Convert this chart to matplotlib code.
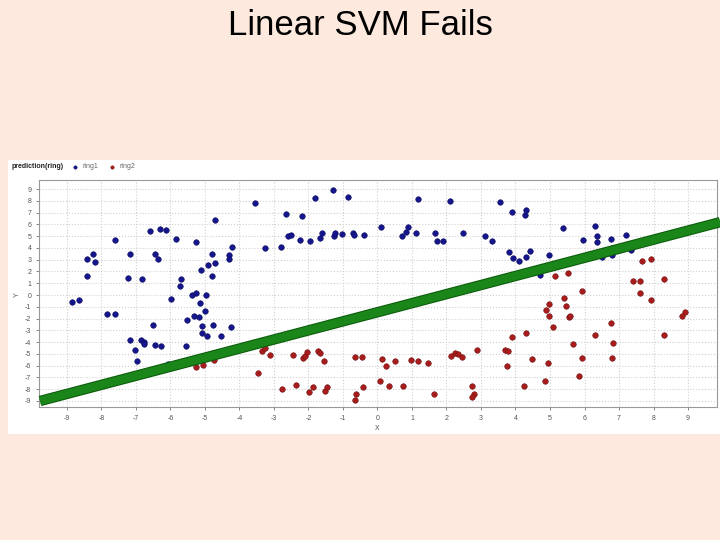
import matplotlib.pyplot as plt
import matplotlib.patheffects as pe
from matplotlib.patches import Rectangle

# ring1 (blue) points
ring1_x = [-8.41, -8.41, -8.24, -8.18, -7.62, -7.18, -7.23, -6.83, -6.6, -6.29, -6.14, -6.45, -6.37,
           -5.83, -5.25, -4.7, -5.7, -5.71, -5.12, -4.92, -4.81, -4.7, -4.8, -4.21, -4.3, -4.31,
           -8.85, -8.66, -7.83, -7.62, -6.52, -7.18, -6.85, -6.77, -6.77, -7.04, -6.98, -6.45, -6.27,
           -6.06, -5.97, -5.55, -5.53, -5.38, -5.26, -4.98, -5.14, -5.01, -5.31, -5.18, -5.08, -4.77,
           -5.1, -4.95, -4.54, -4.25, -4.02,
           -3.56, -3.27, -2.79, -2.64, -2.18, -2.59, -2.52, -2.26, -1.97, -1.8, -1.29, -0.84, -1.68,
           -1.61, -1.27, -1.24, -1.04, -0.7, -0.67, -0.4, 0.1, 0.72, 0.82, 0.88, 1.16, 1.12, 1.67,
           1.73, 1.89, 2.09, 2.48,
           3.56, 3.9, 4.3, 4.27, 3.12, 3.31, 3.82, 3.94, 4.09, 4.3, 4.43, 4.97, 4.71, 5.39, 5.95,
           6.3, 6.36, 6.37, 6.78, 6.8, 6.81, 6.52, 7.19, 7.36]
ring1_y = [1.65, 3.05, 3.5, 2.82, 4.67, 3.45, 1.42, 1.34, 5.41, 5.64, 5.53, 3.5, 3.02,
           4.76, 4.53, 6.38, 1.34, 0.77, 2.14, 2.56, 3.5, 2.76, 1.62, 4.04, 3.42, 3.02,
           -0.63, -0.46, -1.62, -1.6, -2.54, -3.82, -3.79, -3.96, -4.13, -4.67, -5.58, -4.22, -4.33,
           -5.84, -0.34, -4.3, -2.08, 0.03, 0.2, 0.03, -0.71, -1.34, -1.79, -1.85, -2.59, -2.54,
           -3.22, -3.44, -3.5, -2.68, -4.42,
           7.78, 3.96, 4.08, 6.84, 6.72, 5.04, 5.07, 4.7, 4.62, 8.26, 8.89, 8.32, 4.84,
           5.3, 5.01, 5.27, 5.21, 5.27, 5.1, 5.1, 5.81, 5.01, 5.38, 5.78, 8.18, 5.3, 5.27,
           4.62, 4.59, 7.98, 5.3,
           7.89, 7.07, 7.21, 6.81, 4.98, 4.59, 3.62, 3.16, 2.85, 3.22, 3.7, 3.36, 1.71, 5.73, 4.67,
           5.84, 5.01, 4.47, 4.73, 4.02, 3.42, 3.27, 5.07, 3.85]

# ring2 (red) points
ring2_x = [-5.26, -5.07, -4.73,
           -3.35, -3.26, -3.11, -3.46, -2.78, -2.44, -2.35, -2.17, -2.11, -2.05, -1.99, -1.88, -1.73,
           -1.68, -1.54, -1.52, -1.45, -0.64, -0.45, -0.64, -0.61, -0.41, 0.06, 0.14, 0.25, 0.33,
           0.52, 0.73, 0.96, 1.18, 1.45, 1.63, 2.12, 2.26, 2.34, 2.45, 2.89, 2.74, 2.79, 2.74,
           5.15, 5.51, 7.67, 7.94, 7.41, 7.6, 8.29, 5.92, 7.61,
           7.92, 5.41, 4.98, 4.88, 5.45, 4.96, 5.54, 5.59, 5.09, 6.76, 8.9, 8.84, 4.31, 3.91, 6.31,
           8.29, 3.71, 3.78, 5.68, 6.83, 4.49, 4.93, 5.92, 6.8, 3.75, 5.83, 4.85, 4.26]
ring2_y = [-6.13, -5.96, -5.56,
           -4.79, -4.53, -5.1, -6.64, -8.0, -5.13, -7.63, -5.36, -5.16, -4.87, -8.26, -7.81, -4.73,
           -4.9, -5.58, -8.15, -7.78, -5.24, -5.27, -8.89, -8.4, -7.81, -7.29, -5.41, -6.01, -7.69,
           -5.58, -7.69, -5.53, -5.58, -5.81, -8.44, -5.16, -4.9, -5.04, -5.24, -4.64, -7.75, -8.38, -8.69,
           1.62, 1.85, 2.93, 3.02, 1.17, 1.22, 1.34, 0.34, 0.14,
           -0.43, -0.28, -0.8, -1.23, -0.91, -1.77, -1.85, -1.74, -2.7, -2.37, -1.48, -1.82, -3.19, -3.53, -3.36,
           -3.42, -4.64, -4.76, -4.16, -4.07, -5.47, -5.75, -5.36, -5.38, -6.01, -6.84, -7.32, -7.72]

# separating line (endpoints)
line_x = [-9.78, 9.93]
line_y = [-9.0, 6.19]

ticks = list(range(-9, 10))

plt.rcParams['font.family'] = ['Liberation Sans', 'DejaVu Sans']
plt.rcParams['axes.unicode_minus'] = False

fig = plt.figure(figsize=(7.2, 5.4), dpi=100, facecolor='#fde9dd')

fig.text(0.5, 1 - 35 / 540, "Linear SVM Fails", ha='center', va='baseline', fontsize=25, color='black')

# white screenshot panel, behind the axes
fig.patches.append(Rectangle((8 / 720, 1 - 434 / 540), 712 / 720, 274 / 540,
                             transform=fig.transFigure, facecolor='white', edgecolor='none', zorder=-5))

ax = fig.add_axes([39 / 720, 1 - 407 / 540, 678 / 720, 227 / 540])
ax.set_facecolor('white')

ax.scatter(ring1_x, ring1_y, s=16, color='#16168c', edgecolors='#0d0d60', linewidths=0.4,
           label='ring1', zorder=3)
ax.scatter(ring2_x, ring2_y, s=16, color='#a81c1c', edgecolors='#701010', linewidths=0.4,
           label='ring2', zorder=3)

ax.plot(line_x, line_y, color='#1a861a', lw=6, solid_capstyle='butt', clip_on=False, zorder=4,
        path_effects=[pe.Stroke(linewidth=7.5, foreground='#0b5a0b'), pe.Normal()])

ax.set_xlim(-9.81, 9.84)
ax.set_ylim(-9.51, 9.77)
ax.set_xticks(ticks)
ax.set_yticks(ticks)
ax.tick_params(labelsize=5, colors='#555555', length=2, width=0.5)
ax.grid(True, color='#d0d0d0', linestyle=':', linewidth=0.8)
ax.set_axisbelow(True)
for s in ax.spines.values():
    s.set_color('#999999')
    s.set_linewidth(0.8)

fig.text(17 / 720, 1 - 295 / 540, 'Y', rotation=90, ha='center', va='center', fontsize=5, color='#555555')
fig.text(377 / 720, 1 - 428 / 540, 'X', ha='center', va='center', fontsize=5, color='#555555')

fig.text(12 / 720, 1 - 167 / 540, 'prediction(ring)', ha='left', va='center', fontsize=5,
         fontweight='bold', color='#222222')
fig.legend(loc='center left', bbox_to_anchor=(68 / 720, 1 - 167 / 540), ncol=2, frameon=False,
           fontsize=5, handletextpad=0.1, columnspacing=1.0, markerscale=0.6, labelcolor='#666666',
           borderpad=0, borderaxespad=0)

fig.savefig('out.png', dpi=100, facecolor=fig.get_facecolor())
